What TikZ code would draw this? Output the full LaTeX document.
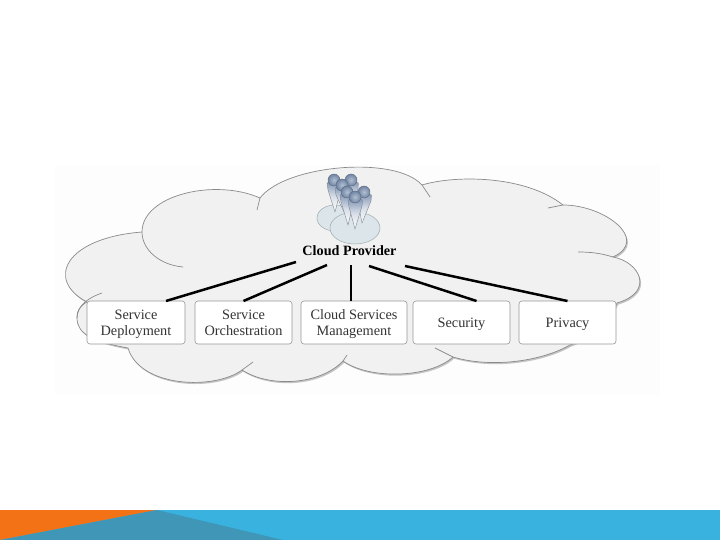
\documentclass[tikz,border=0pt]{standalone}
\usepackage{fontspec}
\setmainfont{Liberation Serif}
\usepackage{xcolor}
\usetikzlibrary{
  arrows.meta,
  positioning,
  calc
}
\definecolor{csCloud}{HTML}{F1F1F1}
\definecolor{csEdge}{HTML}{8A8A8A}
\definecolor{csShadow}{HTML}{C4C4C4}
\definecolor{csPage}{HTML}{FDFDFD}
\definecolor{csBox}{HTML}{FFFFFF}
\definecolor{csBoxEdge}{HTML}{979797}
\definecolor{csDisc}{HTML}{DCE6EA}
\definecolor{csDiscEdge}{HTML}{9DAAB0}
\definecolor{csHead}{HTML}{7D94B5}
\definecolor{csBody}{HTML}{7F93B3}
\definecolor{csBand}{HTML}{39B2E0}
\definecolor{csOrange}{HTML}{F47216}
\definecolor{csTeal}{HTML}{3F96B6}
\newcommand{\cloudshape}{
  (142,232) .. controls (142,195) and (215,178) .. (260,198)
  .. controls (285,165) and (395,155) .. (422,185)
  .. controls (455,175) and (525,175) .. (563,205)
  .. controls (605,205) and (650,240) .. (613,257)
  .. controls (640,262) and (655,292) .. (617,303)
  .. controls (610,320) and (590,338) .. (570,345)
  .. controls (540,362) and (490,368) .. (453,357)
  .. controls (430,378) and (370,380) .. (343,361)
  .. controls (320,385) and (270,388) .. (242,370)
  .. controls (215,390) and (140,388) .. (128,348)
  .. controls (95,342) and (77,335) .. (77,318)
  .. controls (77,310) and (80,306) .. (87,302)
  .. controls (45,280) and (65,238) .. (142,232) -- cycle
}
\newcommand{\twolines}[2]{\raisebox{-2pt}[\height][\depth]{\begin{tabular}{@{}c@{}}#1\\#2\end{tabular}}}
\tikzset{
  cloudedge/.style={draw=csEdge, line width=0.7pt},
  csbox/.style={
    draw=csBoxEdge, fill=csBox, rounded corners=3pt, minimum height=43pt, line width=0.6pt,
    outer sep=0pt, inner sep=0pt, align=center, font=\fontsize{14.3}{16}\selectfont,
    text=black!80
  },
  disc/.style={draw=csDiscEdge, line width=0.5pt, fill=csDisc},
  person/.style={draw=csDiscEdge!80!black, line width=0.4pt, top color=csBody, bottom color=white, middle color=white!70!csBody},
  head/.style={circle, draw=csBody!70!black, line width=0.4pt, inner color=csHead!60, outer color=csHead!90!black},
  link/.style={line width=2.5pt, black}
}
\begin{document}
\begin{tikzpicture}[x=1pt, y=-1pt, node distance=10pt]
  \useasboundingbox (0,0) rectangle (720,540);
  \fill[csPage] (55,165) rectangle (660,395);
  % cloud
  \fill[csShadow, shift={(1.2,1.6)}] \cloudshape;
  \filldraw[fill=csCloud, cloudedge] \cloudshape;
  \draw[cloudedge] (142,232) .. controls (142,250) and (160,265) .. (183,267);
  \draw[cloudedge] (77,318) .. controls (77,305) and (90,297) .. (102,293);
  \draw[cloudedge] (260,198) -- (257,210);
  \draw[cloudedge] (422,185) -- (430,197);
  \draw[cloudedge] (563,205) -- (548,208);
  \draw[cloudedge] (613,257) .. controls (600,253) and (590,252) .. (578,252);
  \draw[cloudedge] (242,370) -- (253,362);
  \draw[cloudedge] (343,361) -- (347,355);
  \draw[cloudedge] (453,357) -- (435,348);
  % boxes
  \node[csbox, minimum width=98pt, anchor=north west] (deploy) at (87,301) {\twolines{Service}{Deployment}};
  \node[csbox, minimum width=97pt, right=10pt of deploy] (orch) {\twolines{Service}{Orchestration}};
  \node[csbox, minimum width=106pt, right=9pt of orch] (mgmt) {\twolines{Cloud Services}{Management}};
  \node[csbox, minimum width=97pt, right=6pt of mgmt] (sec) {\rule{0pt}{14pt}Security\rule[-4pt]{0pt}{4pt}};
  \node[csbox, minimum width=97pt, right=9pt of sec] (priv) {\rule{0pt}{14pt}Privacy\rule[-4pt]{0pt}{4pt}};
  \node[font=\fontsize{14.2}{16}\selectfont\bfseries, inner sep=0pt] (provider) at (349.5,251) {Cloud Provider};
  % people
  \draw[disc] (335,218) ellipse (18 and 13);
  \draw[disc] (355,228) ellipse (25 and 16);
  \foreach \hx/\hy/\tx/\ty in {334/180/335/212, 351/180/353/206, 342/185/344/212, 364/192/362/223, 347/192/348/225, 355/197/355/229}{
    \draw[person] (\hx-7,\hy+3) .. controls (\hx-3,\hy+1) and (\hx+3,\hy+1) .. (\hx+7.5,\hy+3) -- (\hx+7,\hy+9) -- (\tx,\ty) -- (\hx-6,\hy+10) -- cycle;
    \node[head, minimum size=12pt, inner sep=0pt] (h\hx) at (\hx,\hy) {};
  }
  % links
  \coordinate (a1) at (296,262);
  \coordinate (a2) at (327,265);
  \coordinate (a3) at (351,265);
  \coordinate (a4) at (369,266);
  \coordinate (a5) at (405,266);
  \foreach \s/\e/\d in {a1/deploy/30, a2/orch/0, a3/mgmt/-3, a4/sec/15, a5/priv/0}{
    \draw[link] (\s) -- ($(\e.north)+(\d,0)$);
  }
  % footer
  \fill[csBand] (0,510) rectangle (720,540);
  \fill[csOrange] (0,510) -- (157,510) -- (0,540) -- cycle;
  \fill[csTeal] (157,510) -- (283,540) -- (0,540) -- cycle;
\end{tikzpicture}
\end{document}
